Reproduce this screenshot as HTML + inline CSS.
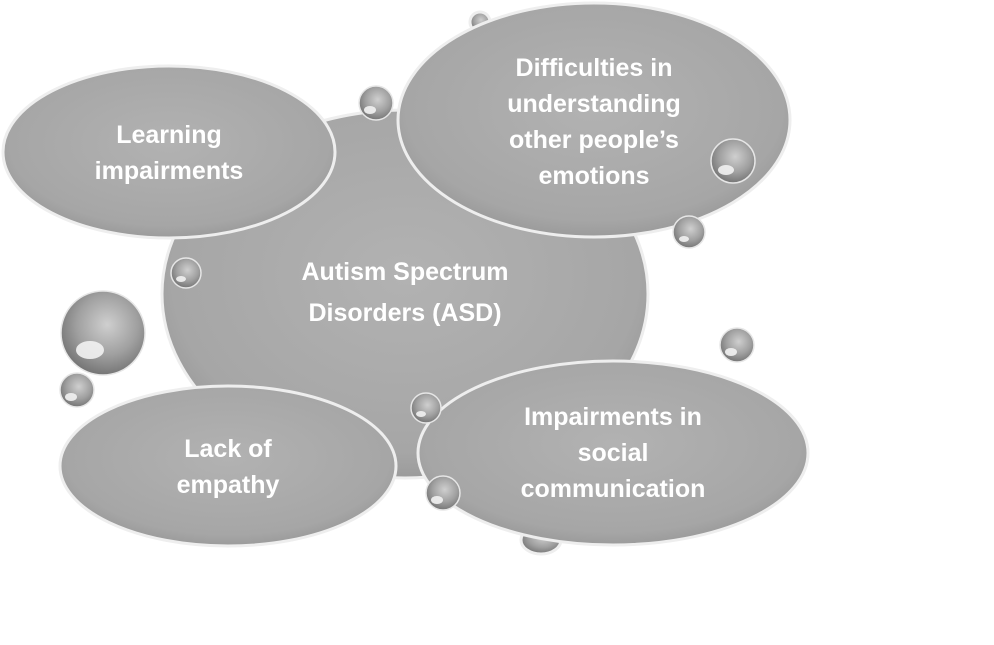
<!DOCTYPE html>
<html><head><style>
body{margin:0;width:994px;height:645px;background:#fff;overflow:hidden}
svg{position:absolute;left:0;top:0}
text{font-family:"Liberation Sans",sans-serif;font-weight:bold;fill:#fff;font-size:25px;text-anchor:middle}
</style></head><body>
<svg width="994" height="645" viewBox="0 0 994 645">
<defs>
<radialGradient id="g" cx="50%" cy="45%" r="60%">
<stop offset="0" stop-color="#b2b2b2"/><stop offset="0.8" stop-color="#a6a6a6"/><stop offset="1" stop-color="#939393"/>
</radialGradient>
<radialGradient id="b" cx="55%" cy="40%" r="60%">
<stop offset="0" stop-color="#cfcfcf"/><stop offset="0.6" stop-color="#a0a0a0"/><stop offset="1" stop-color="#767676"/>
</radialGradient>
</defs>
<g stroke="#eee" stroke-width="3">
<circle cx="480" cy="22" r="10" fill="url(#b)"/>
<ellipse cx="405" cy="294" rx="243" ry="184" fill="url(#g)"/>
<ellipse cx="169" cy="152" rx="166" ry="86" fill="url(#g)"/>
<ellipse cx="594" cy="120" rx="196" ry="117" fill="url(#g)"/>
<ellipse cx="541" cy="540" rx="20" ry="14" fill="url(#b)"/>
<ellipse cx="228" cy="466" rx="168" ry="80" fill="url(#g)"/>
<ellipse cx="613" cy="453" rx="195" ry="92" fill="url(#g)"/>
</g>
<g stroke="#e6e6e6" stroke-width="1.5" fill="url(#b)">
<circle cx="376" cy="103" r="17"/>
<circle cx="186" cy="273" r="15"/>
<circle cx="103" cy="333" r="42"/>
<circle cx="77" cy="390" r="17"/>
<circle cx="733" cy="161" r="22"/>
<circle cx="689" cy="232" r="16"/>
<circle cx="737" cy="345" r="17"/>
<circle cx="426" cy="408" r="15"/>
<circle cx="443" cy="493" r="17"/>
</g>
<g fill="#f2f2f2" opacity="0.9">
<ellipse cx="370" cy="110" rx="6" ry="4"/>
<ellipse cx="181" cy="279" rx="5" ry="3"/>
<ellipse cx="90" cy="350" rx="14" ry="9"/>
<ellipse cx="71" cy="397" rx="6" ry="4"/>
<ellipse cx="726" cy="170" rx="8" ry="5"/>
<ellipse cx="684" cy="239" rx="5" ry="3"/>
<ellipse cx="731" cy="352" rx="6" ry="4"/>
<ellipse cx="421" cy="414" rx="5" ry="3"/>
<ellipse cx="437" cy="500" rx="6" ry="4"/>
</g>
<text x="405" y="280" font-size="29">Autism Spectrum</text>
<text x="405" y="321" font-size="29">Disorders (ASD)</text>
<text x="169" y="143">Learning</text>
<text x="169" y="179">impairments</text>
<text x="594" y="76">Difficulties in</text>
<text x="594" y="112">understanding</text>
<text x="594" y="148">other people’s</text>
<text x="594" y="184">emotions</text>
<text x="228" y="457">Lack of</text>
<text x="228" y="493">empathy</text>
<text x="613" y="425">Impairments in</text>
<text x="613" y="461">social</text>
<text x="613" y="497">communication</text>
</svg>
</body></html>
